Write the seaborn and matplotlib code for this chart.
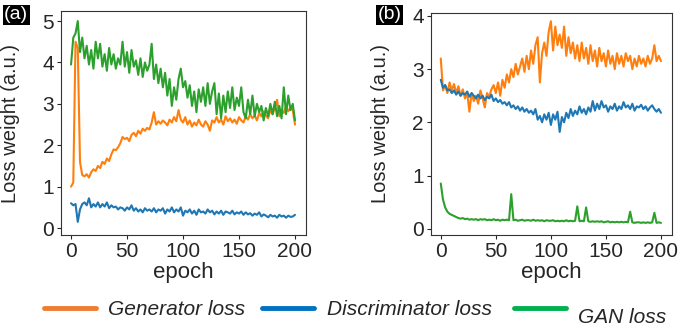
import numpy as np
import pandas as pd
import matplotlib
matplotlib.use("Agg")
import matplotlib.pyplot as plt
from matplotlib.lines import Line2D
import seaborn as sns

# epochs sampled every 2
epochs = list(range(0, 201, 2))

# panel (a)
gen_a = [1.00, 1.10, 4.50, 4.35, 1.60, 1.28, 1.25, 1.30, 1.22, 1.35,
         1.42, 1.38, 1.50, 1.45, 1.60, 1.55, 1.68, 1.62, 1.78, 1.90,
         1.88, 1.95, 2.05, 2.20, 2.15, 2.18, 2.10, 2.25, 2.30, 2.22,
         2.35, 2.28, 2.40, 2.35, 2.42, 2.38, 2.55, 2.80, 2.50, 2.58,
         2.52, 2.60, 2.55, 2.48, 2.62, 2.55, 2.68, 2.58, 2.85, 2.62,
         2.55, 2.68, 2.50, 2.60, 2.45, 2.55, 2.48, 2.62, 2.50, 2.45,
         2.58, 2.50, 2.35, 2.60, 2.55, 2.68, 2.55, 2.62, 2.50, 2.70,
         2.58, 2.65, 2.55, 2.62, 2.52, 2.68, 2.60, 2.55, 2.70, 2.62,
         2.75, 2.65, 2.72, 2.60, 2.78, 2.70, 2.82, 2.72, 2.65, 2.85,
         2.75, 2.90, 3.10, 2.70, 2.85, 2.78, 2.95, 2.82, 2.90, 2.85,
         2.50]
disc_a = [0.60, 0.55, 0.58, 0.15, 0.45, 0.58, 0.62, 0.55, 0.72, 0.50,
          0.58, 0.52, 0.62, 0.50, 0.58, 0.52, 0.62, 0.48, 0.55, 0.50,
          0.52, 0.45, 0.50, 0.48, 0.42, 0.50, 0.45, 0.55, 0.42, 0.48,
          0.40, 0.45, 0.38, 0.48, 0.42, 0.45, 0.40, 0.48, 0.38, 0.45,
          0.42, 0.48, 0.35, 0.45, 0.40, 0.50, 0.38, 0.45, 0.40, 0.50,
          0.30, 0.42, 0.38, 0.45, 0.35, 0.42, 0.32, 0.45, 0.38, 0.40,
          0.35, 0.45, 0.38, 0.42, 0.33, 0.40, 0.35, 0.42, 0.32, 0.40,
          0.38, 0.35, 0.42, 0.33, 0.38, 0.35, 0.40, 0.32, 0.38, 0.33,
          0.36, 0.30, 0.35, 0.32, 0.38, 0.28, 0.33, 0.30, 0.26, 0.32,
          0.28, 0.30, 0.25, 0.32, 0.28, 0.30, 0.25, 0.30, 0.27, 0.28,
          0.32]
gan_a = [3.95, 4.60, 4.70, 5.00, 4.25, 4.60, 4.10, 4.40, 3.95, 4.30,
         3.85, 4.50, 4.10, 4.45, 3.90, 4.20, 3.80, 4.35, 3.95, 4.20,
         3.85, 4.10, 3.95, 4.50, 3.90, 4.25, 3.75, 4.30, 3.90, 4.05,
         3.70, 4.10, 3.65, 4.00, 3.80, 3.95, 4.45, 3.60, 3.95, 3.50,
         3.85, 3.40, 3.75, 3.20, 3.60, 2.95, 3.40, 3.10, 3.60, 3.85,
         3.40, 3.55, 3.15, 3.45, 2.95, 3.30, 2.80, 3.35, 3.05, 3.40,
         2.95, 3.50, 3.00, 3.30, 3.50, 2.75, 3.25, 2.65, 3.20, 2.80,
         3.30, 2.90, 3.40, 2.85, 3.15, 2.95, 3.40, 2.80, 2.65, 3.10,
         2.75, 3.20, 2.70, 3.00, 2.80, 2.95, 2.60, 2.90, 2.70, 3.00,
         2.75, 3.05, 2.70, 2.95, 2.65, 3.40, 2.75, 3.20, 2.85, 3.00,
         2.60]

# panel (b)
gen_b = [3.20, 2.60, 2.70, 2.55, 2.75, 2.60, 2.72, 2.55, 2.68, 2.50,
         2.62, 2.45, 2.55, 2.20, 2.55, 2.40, 2.50, 2.35, 2.60, 2.45,
         2.28, 2.55, 2.48, 2.62, 2.70, 2.55, 2.75, 2.50, 2.80, 2.65,
         2.90, 2.75, 3.00, 2.85, 3.10, 2.90, 3.05, 3.20, 2.95, 3.25,
         3.00, 3.35, 3.10, 3.45, 3.60, 2.75, 3.30, 3.50, 3.25, 3.70,
         3.90, 3.35, 3.80, 3.45, 3.65, 3.40, 3.80, 3.25, 3.60, 3.30,
         3.50, 3.20, 3.45, 3.15, 3.50, 3.20, 3.40, 3.10, 3.45, 3.15,
         3.35, 3.05, 3.40, 3.15, 3.30, 3.05, 3.35, 3.10, 3.25, 3.00,
         3.30, 3.10, 3.25, 3.05, 3.30, 3.15, 3.25, 3.00, 3.20, 3.05,
         3.25, 3.10, 3.20, 3.05, 3.25, 3.10, 3.20, 3.45, 3.15, 3.25,
         3.15]
disc_b = [2.80, 2.65, 2.70, 2.60, 2.62, 2.55, 2.60, 2.52, 2.58, 2.50,
          2.55, 2.52, 2.58, 2.48, 2.55, 2.50, 2.45, 2.52, 2.45, 2.50,
          2.42, 2.48, 2.45, 2.52, 2.40, 2.45, 2.38, 2.42, 2.35, 2.38,
          2.32, 2.38, 2.28, 2.32, 2.25, 2.30, 2.22, 2.28, 2.20, 2.25,
          2.18, 2.22, 2.15, 2.25, 2.05, 2.12, 2.00, 2.15, 2.05, 2.18,
          1.95, 2.15, 2.05, 2.20, 1.82, 2.10, 2.00, 2.18, 2.08, 2.25,
          2.12, 2.22, 2.15, 2.30, 2.18, 2.25, 2.15, 2.28, 2.20, 2.40,
          2.22, 2.35, 2.25, 2.40, 2.28, 2.32, 2.20, 2.30, 2.25, 2.35,
          2.22, 2.30, 2.25, 2.38, 2.28, 2.32, 2.25, 2.35, 2.22, 2.30,
          2.28, 2.33, 2.25, 2.30, 2.22, 2.28, 2.32, 2.25, 2.20, 2.25,
          2.18]
gan_b = [0.85, 0.55, 0.40, 0.32, 0.28, 0.26, 0.24, 0.22, 0.20, 0.19,
         0.20, 0.18, 0.19, 0.17, 0.18, 0.17, 0.18, 0.16, 0.18, 0.17,
         0.18, 0.16, 0.17, 0.16, 0.18, 0.16, 0.17, 0.15, 0.17, 0.16,
         0.17, 0.16, 0.65, 0.16, 0.17, 0.15, 0.16, 0.17, 0.15, 0.16,
         0.16, 0.15, 0.17, 0.15, 0.16, 0.15, 0.16, 0.14, 0.16, 0.15,
         0.15, 0.16, 0.14, 0.15, 0.14, 0.15, 0.14, 0.16, 0.14, 0.15,
         0.14, 0.15, 0.42, 0.14, 0.15, 0.14, 0.40, 0.14, 0.13, 0.14,
         0.13, 0.14, 0.13, 0.14, 0.12, 0.13, 0.14, 0.12, 0.13, 0.12,
         0.13, 0.12, 0.13, 0.12, 0.13, 0.12, 0.32, 0.12, 0.11, 0.12,
         0.12, 0.11, 0.12, 0.11, 0.12, 0.11, 0.12, 0.30, 0.11, 0.12,
         0.11]

series_names = ["Generator loss", "Discriminator loss", "GAN loss"]
line_colors = ["#ff7f0e", "#1f77b4", "#2ca02c"]
legend_colors = ["#ED7D31", "#0070C0", "#00B050"]


def to_long(gen, disc, gan):
    parts = []
    for name, vals in zip(series_names, [gen, disc, gan]):
        parts.append(pd.DataFrame({"epoch": epochs, "loss": vals, "series": name}))
    return pd.concat(parts, ignore_index=True)


sns.set_style("white")
plt.rcParams["font.family"] = ["Liberation Sans", "DejaVu Sans"]

fig = plt.figure(figsize=(6.85, 3.27), dpi=100)
ax_a = fig.add_axes([0.089, 0.281, 0.358, 0.685])
ax_b = fig.add_axes([0.629, 0.281, 0.352, 0.680])

palette = dict(zip(series_names, line_colors))
for ax, data in [(ax_a, to_long(gen_a, disc_a, gan_a)),
                 (ax_b, to_long(gen_b, disc_b, gan_b))]:
    sns.lineplot(data=data, x="epoch", y="loss", hue="series",
                 palette=palette, linewidth=1.5, legend=False, ax=ax)
    ax.set_xlim(-9, 210)
    ax.set_xticks([0, 50, 100, 150, 200])
    ax.set_xlabel("epoch", fontsize=16, labelpad=1)
    ax.set_ylabel("Loss weight (a.u.)", fontsize=14.5)
    ax.tick_params(labelsize=15, length=3, width=0.8, pad=2, direction="out",
                   left=True, bottom=True)
    for sp in ax.spines.values():
        sp.set_color("#333333")
        sp.set_linewidth(0.8)

ax_a.set_ylim(-0.17, 5.24)
ax_a.set_yticks([0, 1, 2, 3, 4, 5])
ax_b.set_ylim(-0.12, 4.06)
ax_b.set_yticks([0, 1, 2, 3, 4])
ax_a.yaxis.set_label_coords(-0.168, 0.5)
ax_b.yaxis.set_label_coords(-0.17, 0.5)

box = dict(facecolor="black", edgecolor="none", pad=1.0)
fig.text(0.006, 0.955, "(a)", color="white", fontsize=14, va="center", bbox=box)
fig.text(0.551, 0.955, "(b)", color="white", fontsize=14, va="center", bbox=box)

# legend: first two entries with labels, GAN entry handle + slightly lower text
handles = [Line2D([0], [0], color=c, lw=3.5) for c in legend_colors]
leg_kw = dict(frameon=False, prop={"style": "italic", "size": 15},
              handlelength=2.5, columnspacing=0.8, handletextpad=0.6,
              borderpad=0, borderaxespad=0, loc="center left")
fig.legend(handles[:2], series_names[:2], ncol=2,
           bbox_to_anchor=(0.064, 0.052), **leg_kw)
fig.legend(handles[2:], [""], ncol=1,
           bbox_to_anchor=(0.750, 0.052), **leg_kw)
fig.text(0.844, 0.030, series_names[2], fontsize=15, style="italic",
         ha="left", va="center")

fig.savefig("out.png", dpi=100)
